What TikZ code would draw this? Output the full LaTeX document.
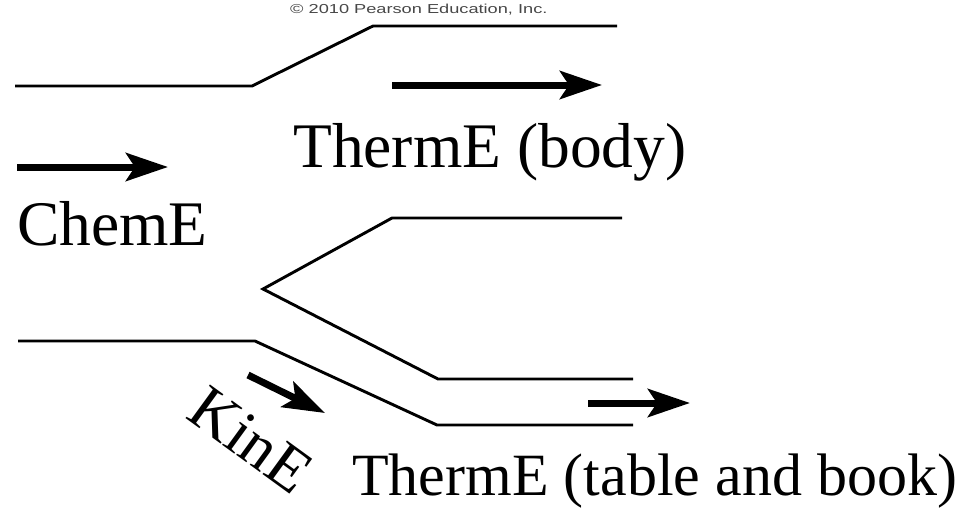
\documentclass[tikz,border=0pt]{standalone}
\usepackage{fontspec}
\setmainfont{Liberation Serif}
\newfontfamily\copyfont{Liberation Sans}
\usetikzlibrary{arrows.meta}

\begin{document}
\begin{tikzpicture}[
  x=1pt, y=-1pt,
  wall/.style = {line width=2.9pt, line join=miter},
  flow/.style = {-{Stealth[length=42pt, width=28pt, inset=9pt]}, line width=7pt},
  lbl/.style  = {font=\fontsize{63.5}{70}\selectfont, inner sep=0pt},
  note/.style = {font=\copyfont\fontsize{13}{14}\selectfont, text=black!72,
                 inner sep=0pt}
]
\useasboundingbox (0,0) rectangle (973,507);

% ---------- copyright line -------------------------------------------------
\node[note, anchor=base west] (copy) at (290,13)
  {\scalebox{1.4}[1]{\textcopyright\ 2010 Pearson Education, Inc.}};

% ---------- upper path (body) ----------------------------------------------
\coordinate (u1) at (15,86);
\coordinate (u2) at (252,86);
\coordinate (u3) at (373,26);
\coordinate (u4) at (617,26);
\draw[wall] (u1) -- (u2) -- (u3) -- (u4);

% ---------- middle path (fork) ---------------------------------------------
\coordinate (m1) at (622,218);
\coordinate (m2) at (392,218);
\coordinate (m3) at (263,289);
\coordinate (m4) at (438,379);
\coordinate (m5) at (633,379);
\draw[wall] (m1) -- (m2) -- (m3) -- (m4) -- (m5);

% ---------- lower path (table) ---------------------------------------------
\coordinate (l1) at (18,341);
\coordinate (l2) at (255,341);
\coordinate (l3) at (437,425);
\coordinate (l4) at (633,425);
\draw[wall] (l1) -- (l2) -- (l3) -- (l4);

% ---------- energy arrows --------------------------------------------------
\coordinate (chemS) at (17,167);   \coordinate (chemT) at (168,167);
\coordinate (bodyS) at (392,85);   \coordinate (bodyT) at (602,85);
\coordinate (kinS)  at (248,375);  \coordinate (kinT)  at (325,413);
\coordinate (tabS)  at (588,403);  \coordinate (tabT)  at (690,403);
\draw[flow] (chemS) -- (chemT);
\draw[flow] (bodyS) -- (bodyT);
\draw[flow] (kinS) -- (kinT);
\draw[flow] (tabS) -- (tabT);

% ---------- labels ---------------------------------------------------------
\node[lbl, anchor=base west] (chem) at (17,245) {ChemE};
\node[lbl, anchor=base west] (thbody) at (293,167) {ThermE (body)};
\node[lbl, rotate=-36] (kin) at (251,440) {KinE};
\node[lbl, anchor=base west, font=\fontsize{60}{66}\selectfont] (thtab)
  at (352,495) {ThermE (table and book)};

\end{tikzpicture}
\end{document}
